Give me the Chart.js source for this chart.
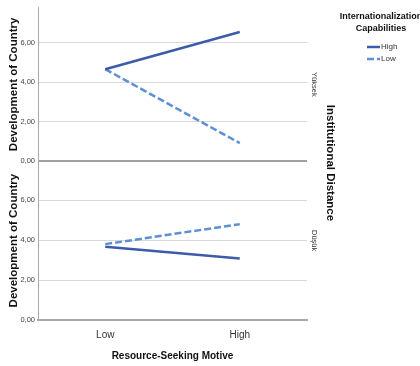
<!DOCTYPE html>
<html>
<head>
<meta charset="utf-8">
<script src="https://cdn.jsdelivr.net/npm/chart.js@4/dist/chart.umd.min.js"></script>
<style>
  html, body { margin: 0; padding: 0; background: #fff; }
  #wrap { width: 420px; height: 366px; }
</style>
</head>
<body>
<div id="wrap"><canvas id="myChart" width="420" height="366"></canvas></div>
<script>
// categorias do eixo x
const categories = ['Low', 'High']
// painel de cima (Yüksek) e de baixo (Düşük)
const panels = ['Yüksek', 'Düşük']
const topHigh = [4.67, 6.56]
const topLow = [4.67, 0.92]
const bottomHigh = [3.67, 3.08]
const bottomLow = [3.80, 4.80]
const yTicks = [0, 2, 4, 6]
const seriesNames = ['High', 'Low']

const solidColor = '#3d5ba9'
const dashColor = '#5d8fd3'
const FONT = "'Liberation Sans Narrow', 'Liberation Sans', Arial, sans-serif"
const BOLD = "'Liberation Sans', Arial, sans-serif"

function points(arr) {
    return arr.map((v, i) => ({ x: i, y: v }))
}
function fmt(v) {
    return v.toFixed(2).replace('.', ',')
}

function yScale(max, weight) {
    return {
        type: 'linear',
        position: 'left',
        stack: 'panels',
        stackWeight: weight,
        min: 0,
        max: max,
        afterBuildTicks: axis => { axis.ticks = yTicks.map(v => ({ value: v })) },
        afterFit: axis => { axis.width = 38 },
        border: { display: true, color: '#a8a8a8', width: 1 },
        grid: {
            drawTicks: false,
            color: c => c.tick && c.tick.value === 0 ? '#a0a0a0' : '#d8d8d8',
            lineWidth: c => c.tick && c.tick.value === 0 ? 2 : 1
        },
        ticks: {
            padding: 3,
            color: '#444',
            font: { family: FONT, size: 7.5 },
            callback: v => fmt(v)
        },
        title: {
            display: true,
            text: 'Development of Country',
            color: '#111',
            padding: { top: 7, bottom: 0 },
            font: { family: BOLD, size: 11.5, weight: 'bold' }
        }
    }
}

// textos da direita + legenda
const sideText = {
    id: 'sideText',
    afterDraw(chart) {
        const ctx = chart.ctx
        const area = chart.chartArea
        const yt = chart.scales.yTop
        const yb = chart.scales.yBot
        ctx.save()
        ctx.fillStyle = '#333'
        ctx.textAlign = 'center'
        ctx.textBaseline = 'middle'
        // rotulos dos paineis
        ctx.font = '7.5px ' + FONT
        let centers = [(yt.top + yt.bottom) / 2, (yb.top + yb.bottom) / 2]
        for (let i = 0; i < panels.length; i++) {
            ctx.save()
            ctx.translate(area.right + 7, centers[i])
            ctx.rotate(Math.PI / 2)
            ctx.fillText(panels[i], 0, 0)
            ctx.restore()
        }
        // titulo do painel
        ctx.save()
        ctx.fillStyle = '#111'
        ctx.font = 'bold 11.5px ' + BOLD
        ctx.translate(area.right + 23, 163)
        ctx.rotate(Math.PI / 2)
        ctx.fillText('Institutional Distance', 0, 0)
        ctx.restore()
        // legenda
        ctx.fillStyle = '#111'
        ctx.font = 'bold 9px ' + FONT
        ctx.fillText('Internationalization', 381, 17)
        ctx.fillText('Capabilities', 381, 29)
        ctx.font = '8px ' + FONT
        ctx.textAlign = 'left'
        let ds = chart.data.datasets
        for (let i = 0; i < seriesNames.length; i++) {
            let y = 47 + i * 12
            ctx.strokeStyle = ds[i].borderColor
            ctx.lineWidth = 2.5
            ctx.setLineDash(ds[i].borderDash || [])
            ctx.beginPath()
            ctx.moveTo(367, y)
            ctx.lineTo(380, y)
            ctx.stroke()
            ctx.fillStyle = '#333'
            ctx.fillText(seriesNames[i], 381, y)
        }
        ctx.restore()
    }
}

const ctx = document.getElementById('myChart')
const myChart = new Chart(ctx, {
    type: 'line',
    data: {
        datasets: [
            { label: 'High', data: points(topHigh), yAxisID: 'yTop', borderColor: solidColor, borderWidth: 2.5, borderDash: [] },
            { label: 'Low', data: points(topLow), yAxisID: 'yTop', borderColor: dashColor, borderWidth: 2.5, borderDash: [7, 3] },
            { label: 'High', data: points(bottomHigh), yAxisID: 'yBot', borderColor: solidColor, borderWidth: 2.5, borderDash: [] },
            { label: 'Low', data: points(bottomLow), yAxisID: 'yBot', borderColor: dashColor, borderWidth: 2.5, borderDash: [7, 3] }
        ]
    },
    options: {
        responsive: false,
        animation: false,
        devicePixelRatio: 1,
        elements: { point: { radius: 0 }, line: { tension: 0 } },
        layout: { padding: { top: 7, right: 113, left: 0, bottom: 0 } },
        plugins: { legend: { display: false }, tooltip: { enabled: false } },
        scales: {
            x: {
                type: 'linear',
                min: -0.5,
                max: 1.5,
                afterBuildTicks: axis => { axis.ticks = categories.map((c, i) => ({ value: i })) },
                afterFit: axis => { axis.height = 46 },
                border: { display: true, color: '#a8a8a8', width: 2 },
                grid: { display: false },
                ticks: {
                    padding: 1,
                    color: '#333',
                    font: { family: FONT, size: 10 },
                    callback: v => categories[v]
                },
                title: {
                    display: true,
                    text: 'Resource-Seeking Motive',
                    color: '#111',
                    padding: { top: 6 },
                    font: { family: FONT, size: 10, weight: 'bold' }
                }
            },
            yBot: yScale(7.95, 159),
            yTop: yScale(7.8, 154)
        }
    },
    plugins: [sideText]
})
</script>
</body>
</html>
